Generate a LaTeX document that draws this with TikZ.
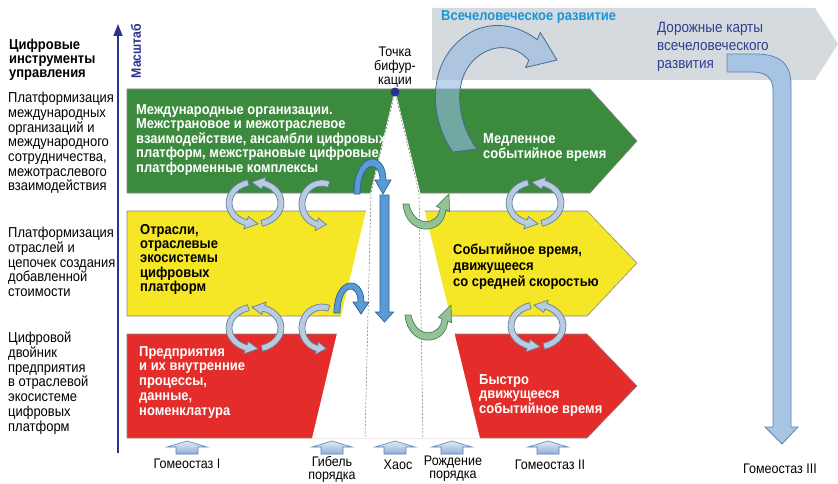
\documentclass[tikz,border=0pt]{standalone}
\usepackage{fontspec}
\setmainfont{Liberation Sans}[FakeStretch=0.9]
\usetikzlibrary{arrows.meta}

\definecolor{bandgreen}{RGB}{60,138,62}
\definecolor{bandyellow}{RGB}{245,230,38}
\definecolor{bandred}{RGB}{228,45,42}
\definecolor{bandgray}{RGB}{213,218,223}
\definecolor{bandedge}{RGB}{135,135,135}
\definecolor{axisblue}{RGB}{42,50,142}
\definecolor{cyantext}{RGB}{25,150,215}
\definecolor{roadblue}{RGB}{45,62,145}
\definecolor{ringfill}{RGB}{185,203,222}
\definecolor{ringdraw}{RGB}{100,125,158}
\definecolor{blueafill}{RGB}{91,155,213}
\definecolor{bluedraw}{RGB}{40,95,155}
\definecolor{greenafill}{RGB}{145,195,150}
\definecolor{greenadraw}{RGB}{70,130,85}
\definecolor{bigfill}{RGB}{150,185,222}
\definecolor{bigdraw}{RGB}{70,105,145}
\definecolor{pipefill}{RGB}{167,196,228}
\definecolor{pipedraw}{RGB}{95,130,175}
\definecolor{uptop}{RGB}{225,235,247}
\definecolor{upbot}{RGB}{140,175,215}
\definecolor{dashgray}{RGB}{110,110,110}

\tikzset{
  lefttxt/.style={anchor=north west, inner sep=0pt, align=left, font=\fontsize{14.4}{14.7}\selectfont},
  bandtxt/.style={anchor=north west, inner sep=0pt, align=left, font=\bfseries\fontsize{14.4}{14.6}\selectfont},
  labeltxt/.style={inner sep=0pt, align=center, font=\fontsize{13.9}{15}\selectfont},
  bandshape/.style={draw=bandedge, line width=0.6pt},
  ringarr/.style={fill=ringfill, draw=ringdraw, line width=0.7pt},
  bluearr/.style={fill=blueafill, draw=bluedraw, line width=0.7pt},
  greenarr/.style={fill=greenafill, draw=greenadraw, line width=0.7pt},
  bigarr/.style={fill=bigfill, fill opacity=0.62, draw=bigdraw, line width=0.8pt},
  pipearr/.style={fill=pipefill, draw=pipedraw, line width=0.8pt},
  upbox/.style={top color=uptop, bottom color=upbot, draw=pipedraw, line width=0.6pt},
  dashline/.style={draw=dashgray, line width=0.5pt, dash pattern=on 2pt off 1.6pt}
}

\def\arcT{3}
\def\arcH{3.5}
\newcommand{\myarcarrow}[8]{%
  \pgfmathsetmacro{\rxo}{#4+\arcT}\pgfmathsetmacro{\ryo}{#5+\arcT}%
  \pgfmathsetmacro{\rxi}{#4-\arcT}\pgfmathsetmacro{\ryi}{#5-\arcT}%
  \pgfmathsetmacro{\rxh}{#4+\arcT+\arcH}\pgfmathsetmacro{\ryh}{#5+\arcT+\arcH}%
  \pgfmathsetmacro{\rxj}{#4-\arcT-\arcH}\pgfmathsetmacro{\ryj}{#5-\arcT-\arcH}%
  \path[#1,shift={(#2,#3)}] (#6:\rxo\space and \ryo) arc[start angle=#6,end angle=#7,x radius=\rxo,y radius=\ryo]
    -- (#7:\rxh\space and \ryh) -- (#8:#4 and #5) -- (#7:\rxj\space and \ryj) -- (#7:\rxi\space and \ryi)
    arc[start angle=#7,end angle=#6,x radius=\rxi,y radius=\ryi] -- cycle;}
\newcommand{\myring}[2]{%
  \myarcarrow{ringarr}{#1}{#2}{26}{21}{75}{-70}{-97}%
  \myarcarrow{ringarr}{#1}{#2}{26}{21}{255}{110}{83}}
\newcommand{\myhalfring}[2]{%
  \myarcarrow{ringarr}{#1}{#2}{20}{21}{290}{105}{78}}
\newcommand{\mygreenarr}[2]{%
  \path[greenarr, shift={(#1,#2)}] (403,204) .. controls (406,237) and (444,236) .. (445.8,210)
    -- (449.5,211.6) -- (449,194) -- (436.5,206.4) -- (440.2,208)
    .. controls (438,226) and (414,228) .. (409,204) -- cycle;}
\newcommand{\myup}[1]{%
  \path[upbox] (#1,441) -- ++(20,6) -- ++(-9,0) -- ++(0,7) -- ++(-22,0) -- ++(0,-7) -- ++(-9,0) -- cycle;}

\begin{document}
\begin{tikzpicture}[x=1pt,y=-1pt]
\useasboundingbox (0,0) rectangle (838,484);
\clip (0,0) rectangle (838,484);

% top grey band
\path[fill=bandgray] (432,8) -- (815,8) -- (838,44) -- (815,80) -- (432,80) -- cycle;
% road-map pipe arrow
\path[pipearr] (727,54) -- (755,54) .. controls (778,54) and (791,62) .. (791,85) -- (791,427)
  -- (798,427) -- (782,444) -- (765,427) -- (773,427) -- (773,90)
  .. controls (773,78) and (766,72) .. (752,72) -- (727,72) -- cycle;

% bands
\path[bandshape, fill=bandgreen] (127,89) -- (590,89) -- (637,141) -- (590,193) -- (127,193) -- cycle;
\path[bandshape, fill=bandyellow] (127,211) -- (587,211) -- (637,263) -- (587,316) -- (127,316) -- cycle;
\path[bandshape, fill=bandred] (127,334) -- (587,334) -- (637,386) -- (587,438) -- (127,438) -- cycle;

% white cone
\fill[white] (395,89) -- (312,438.5) -- (480,438.5) -- cycle;
\draw[dashline] (395,92) -- (371,193) -- (365,438);
\draw[dashline] (395,92) -- (419,193) -- (423,438);

% big curved arrow
\path[bigarr] (453,152) .. controls (428,118) and (425,55) .. (475,30)
  .. controls (500,20) and (522,28) .. (537.2,39.8) -- (540.3,32.5) -- (557,60) -- (525.7,67.5) -- (528.8,60.2)
  .. controls (517,47) and (500,44) .. (485,52) .. controls (450,70) and (455,120) .. (477,149) -- cycle;

% texts in the grey band
\node[anchor=base west, inner sep=0pt, font=\bfseries\fontsize{14.4}{15}\selectfont, text=cyantext] (allhum) at (441,20.5) {Всечеловеческое развитие};
\node[anchor=north west, inner sep=0pt, align=left, font=\fontsize{15}{18}\selectfont, text=roadblue] (roadmap) at (657,22) {Дорожные карты\\всечеловеческого\\развития};

% left column
\node[anchor=north west, inner sep=0pt, align=left, font=\bfseries\fontsize{14.4}{14.3}\selectfont] (title) at (9,38.5) {Цифровые\\инструменты\\управления};
\node[lefttxt] (lt1) at (8,92) {Платформизация\\международных\\организаций и\\международного\\сотрудничества,\\межотраслевого\\взаимодействия};
\node[lefttxt] (lt2) at (8,227) {Платформизация\\отраслей и\\цепочек создания\\добавленной\\стоимости};
\node[lefttxt] (lt3) at (8,332) {Цифровой\\двойник\\предприятия\\в отраслевой\\экосистеме\\цифровых\\платформ};

% axis
\draw[draw=axisblue, line width=1.6pt, -{Triangle[length=12pt,width=9pt]}] (118,453) -- (118,24);
\node[rotate=90, inner sep=0pt, font=\bfseries\fontsize{13.6}{14}\selectfont, text=axisblue] (scale) at (136,51) {Масштаб};

% band texts
\node[bandtxt, text=white] (gl) at (136,104) {Международные организации.\\Межстрановое и межотраслевое\\взаимодействие, ансамбли цифровых\\платформ, межстрановые цифровые\\платформенные комплексы};
\node[bandtxt, font=\bfseries\fontsize{14.4}{14.3}\selectfont] (yl) at (140,224) {Отрасли,\\отраслевые\\экосистемы\\цифровых\\платформ};
\node[bandtxt, font=\bfseries\fontsize{14.4}{14.75}\selectfont, text=white] (rl) at (139,346) {Предприятия\\и их внутренние\\процессы,\\данные,\\номенклатура};
\node[bandtxt, font=\bfseries\fontsize{14.4}{15}\selectfont, text=white] (gr) at (483,133) {Медленное\\событийное время};
\node[bandtxt, font=\bfseries\fontsize{14.4}{16}\selectfont] (yr) at (453,244) {Событийное время,\\движущееся\\со средней скоростью};
\node[bandtxt, font=\bfseries\fontsize{14.4}{14.5}\selectfont, text=white] (rr) at (479,374) {Быстро\\движущееся\\событийное время};

% cyclic arrows
\myring{255}{203}
\myhalfring{322}{204}
\myring{535}{203}
\myring{255}{328}
\myhalfring{322}{328}
\myring{537}{326}

% blue arrows in the cone
\path[bluearr] (354,194) .. controls (354,150) and (386,150) .. (386,180) -- (391,180) -- (383,194)
  -- (375,180) -- (380,180) .. controls (380,160) and (360,160) .. (360,194) -- cycle;
\path[bluearr] (380,195) -- (389,195) -- (389,312) -- (393.5,312) -- (384.5,322) -- (375.5,312) -- (380,312) -- cycle;
\path[bluearr] (334,313) .. controls (334,275) and (364,275) .. (364,302) -- (369,302) -- (361,314)
  -- (353,302) -- (358,302) .. controls (358,283) and (340,283) .. (340,313) -- cycle;

% green arrows
\mygreenarr{0}{0}
\mygreenarr{2}{111}

% bifurcation point
\node[labeltxt, anchor=north, font=\fontsize{13.9}{14}\selectfont] (bif) at (395,47) {Точка\\бифур-\\кации};
\fill[axisblue] (395,92) circle[radius=4.5];

% bottom arrows and labels
\myup{187}
\myup{332}
\myup{395}
\myup{452}
\myup{548}
\node[labeltxt, anchor=north] (h1) at (187,459) {Гомеостаз I};
\node[labeltxt, anchor=north, font=\fontsize{13.9}{13.4}\selectfont] (death) at (332,456) {Гибель\\порядка};
\node[labeltxt, anchor=north] (chaos) at (398,460) {Хаос};
\node[labeltxt, anchor=north, font=\fontsize{13.9}{13.4}\selectfont] (birth) at (453,455.5) {Рождение\\порядка};
\node[labeltxt, anchor=north] (h2) at (550,460) {Гомеостаз II};
\node[labeltxt, anchor=north] (h3) at (780,464) {Гомеостаз III};
\end{tikzpicture}
\end{document}
